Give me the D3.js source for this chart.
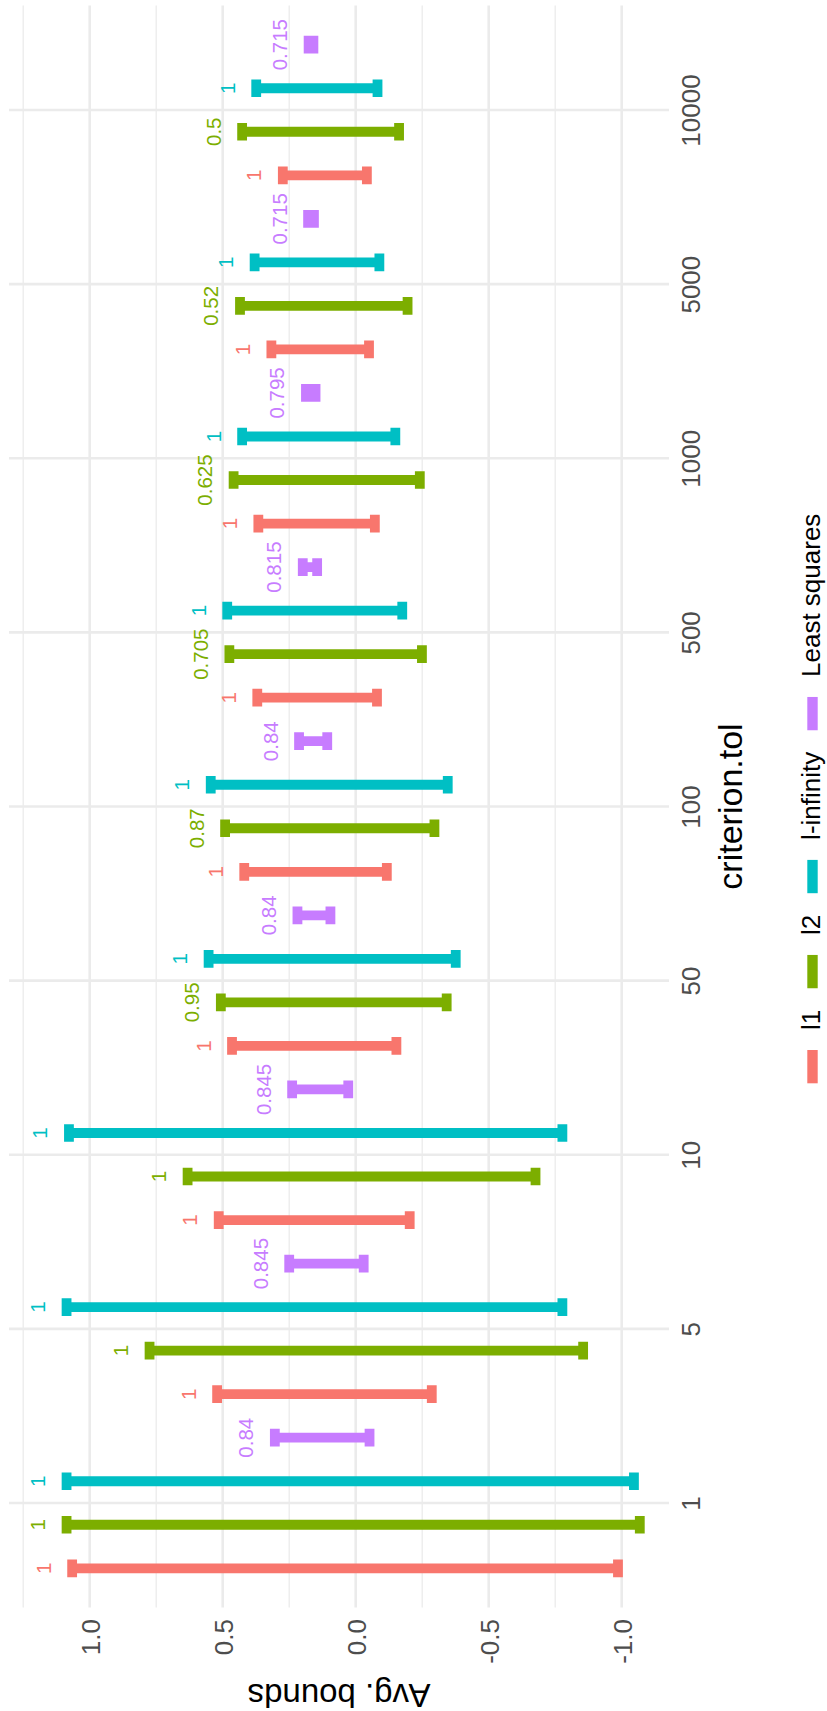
<!DOCTYPE html>
<html>
<head>
<meta charset="utf-8">
<script src="https://cdn.jsdelivr.net/npm/d3@7"></script>
<style>
  html, body { margin: 0; padding: 0; background: #ffffff; }
  svg { display: block; }
  text { font-family: "Liberation Sans", Arial, Helvetica, sans-serif; }
</style>
</head>
<body>
<div id="chart"></div>
<script>
// criterion.tol levels and fitting methods
const categories = ["1", "5", "10", "50", "100", "500", "1000", "5000", "10000"];
const methods = ["l1", "l2", "l-infinity", "Least squares"];
const methodColors = ["#F8766D", "#7CAE00", "#00BFC4", "#C77CFF"];

// average upper / lower bounds per method, one value per criterion.tol level
const upperL1 = [1.066, 0.521, 0.515, 0.465, 0.419, 0.370, 0.366, 0.317, 0.274];
const lowerL1 = [-0.986, -0.286, -0.203, -0.153, -0.117, -0.080, -0.072, -0.050, -0.042];
const upperL2 = [1.087, 0.775, 0.632, 0.507, 0.491, 0.475, 0.459, 0.435, 0.427];
const lowerL2 = [-1.068, -0.855, -0.676, -0.342, -0.296, -0.249, -0.241, -0.195, -0.163];
const upperLinf = [1.087, 1.087, 1.078, 0.553, 0.545, 0.483, 0.427, 0.380, 0.374];
const lowerLinf = [-1.046, -0.777, -0.777, -0.376, -0.346, -0.175, -0.149, -0.089, -0.082];
const upperLS = [0.304, 0.250, 0.239, 0.219, 0.213, 0.199, 0.187, 0.179, 0.177];
const lowerLS = [-0.052, -0.030, 0.028, 0.095, 0.107, 0.145, 0.151, 0.157, 0.159];

// coverage printed beside each interval
const coverL1 = [1, 1, 1, 1, 1, 1, 1, 1, 1];
const coverL2 = [1, 1, 1, 0.95, 0.87, 0.705, 0.625, 0.52, 0.5];
const coverLinf = [1, 1, 1, 1, 1, 1, 1, 1, 1];
const coverLS = [0.84, 0.845, 0.845, 0.84, 0.84, 0.815, 0.795, 0.715, 0.715];

// value axis breaks
const majorBreaks = [-1, -0.5, 0, 0.5, 1];
const minorBreaks = [-0.75, -0.25, 0.25, 0.75, 1.25];

const uppers = [upperL1, upperL2, upperLinf, upperLS];
const lowers = [lowerL1, lowerL2, lowerLinf, lowerLS];
const covers = [coverL1, coverL2, coverLinf, coverLS];

const rows = [];
methods.forEach((m, mi) => {
  categories.forEach((c, ci) => {
    rows.push({ cat: c, method: m, mi: mi,
      upper: uppers[mi][ci], lower: lowers[mi][ci], cover: covers[mi][ci] });
  });
});

const W = 827, H = 1711;
const panel = { left: 9, right: 669, top: 5.5, bottom: 1607.5 };

const svg = d3.select("#chart").append("svg")
  .attr("width", W).attr("height", H)
  .attr("viewBox", `0 0 ${W} ${H}`);
svg.append("rect").attr("width", W).attr("height", H).attr("fill", "#ffffff");

// the plot is laid out sideways: criterion.tol runs up the page, bounds run right-to-left
const catScale = d3.scalePoint().domain(categories).range([1503, 110]);
const step = catScale.step();
const dodge = d3.scaleBand().domain(methods).range([step / 2, -step / 2]);
const valScale = d3.scaleLinear().domain([-1.1778, 1.3034]).range([panel.right, panel.left]);

const grid = svg.append("g").attr("class", "grid");
grid.selectAll("line.minor").data(minorBreaks).join("line")
  .attr("class", "minor")
  .attr("x1", d => valScale(d)).attr("x2", d => valScale(d))
  .attr("y1", panel.top).attr("y2", panel.bottom)
  .attr("stroke", "#EBEBEB").attr("stroke-width", 1.3);
grid.selectAll("line.major").data(majorBreaks).join("line")
  .attr("class", "major")
  .attr("x1", d => valScale(d)).attr("x2", d => valScale(d))
  .attr("y1", panel.top).attr("y2", panel.bottom)
  .attr("stroke", "#EBEBEB").attr("stroke-width", 2.6);
grid.selectAll("line.cat").data(categories).join("line")
  .attr("class", "cat")
  .attr("x1", panel.left).attr("x2", panel.right)
  .attr("y1", d => catScale(d)).attr("y2", d => catScale(d))
  .attr("stroke", "#EBEBEB").attr("stroke-width", 2.6);

// error bars
const capLen = 17.7;
const barY = d => catScale(d.cat) + dodge(d.method) + dodge.bandwidth() / 2;
svg.append("g").attr("class", "bars").selectAll("path").data(rows).join("path")
  .attr("d", d => {
    const y = barY(d), xu = valScale(d.upper), xl = valScale(d.lower);
    return `M${xu},${y - capLen / 2}L${xu},${y + capLen / 2}` +
           `M${xu},${y}L${xl},${y}` +
           `M${xl},${y - capLen / 2}L${xl},${y + capLen / 2}`;
  })
  .attr("fill", "none")
  .attr("stroke", d => methodColors[d.mi])
  .attr("stroke-width", 9.8)
  .attr("stroke-linecap", "butt");

// coverage labels beyond the upper bound
svg.append("g").attr("class", "labels").selectAll("text").data(rows).join("text")
  .attr("transform", d => `translate(${valScale(d.upper) - 21.5},${barY(d)}) rotate(-90)`)
  .attr("text-anchor", "middle")
  .attr("font-size", 20.5)
  .attr("fill", d => methodColors[d.mi])
  .text(d => String(d.cover));

// criterion.tol axis (right of the panel)
const catAxis = svg.append("g")
  .attr("transform", `translate(${panel.right},0)`)
  .call(d3.axisRight(catScale).tickSize(0).tickPadding(0));
catAxis.select(".domain").remove();
catAxis.selectAll("text")
  .attr("transform", "rotate(-90)")
  .attr("x", 0).attr("y", 30.5).attr("dy", 0)
  .attr("text-anchor", "middle")
  .attr("font-size", 26)
  .attr("font-family", "Liberation Sans, Arial, sans-serif")
  .attr("fill", "#4D4D4D");

// bounds axis (below the panel)
const valAxis = svg.append("g")
  .attr("transform", `translate(0,${panel.bottom})`)
  .call(d3.axisBottom(valScale).tickValues(majorBreaks).tickSize(0)
    .tickFormat(v => v.toFixed(1)));
valAxis.select(".domain").remove();
valAxis.selectAll("text")
  .attr("transform", "rotate(-90)")
  .attr("x", -11.5).attr("y", 9.4).attr("dy", 0)
  .attr("text-anchor", "end")
  .attr("font-size", 26)
  .attr("font-family", "Liberation Sans, Arial, sans-serif")
  .attr("fill", "#4D4D4D");

// axis titles
const midY = (panel.top + panel.bottom) / 2;
const midX = (panel.left + panel.right) / 2;
svg.append("text")
  .attr("transform", `translate(741.5,${midY}) rotate(-90)`)
  .attr("text-anchor", "middle")
  .attr("font-size", 34)
  .attr("fill", "#000000")
  .text("criterion.tol");
svg.append("text")
  .attr("transform", `translate(${midX},1683.5) rotate(180)`)
  .attr("text-anchor", "middle")
  .attr("font-size", 33)
  .attr("fill", "#000000")
  .text("Avg. bounds");

// legend, running up the right edge
const legend = svg.append("g").attr("class", "legend");
const keyLen = 33.3, keyGap = 20, itemGap = 21.5;
let pos = 1083.3;
methods.forEach((m, i) => {
  legend.append("rect")
    .attr("x", 807.3).attr("y", pos - keyLen)
    .attr("width", 10.4).attr("height", keyLen)
    .attr("fill", methodColors[i]);
  const start = pos - keyLen - keyGap;
  const t = legend.append("text")
    .attr("transform", `translate(820,${start}) rotate(-90)`)
    .attr("text-anchor", "start")
    .attr("font-size", 26)
    .attr("fill", "#000000")
    .text(m);
  pos = start - t.node().getComputedTextLength() - itemGap;
});
</script>
</body>
</html>
